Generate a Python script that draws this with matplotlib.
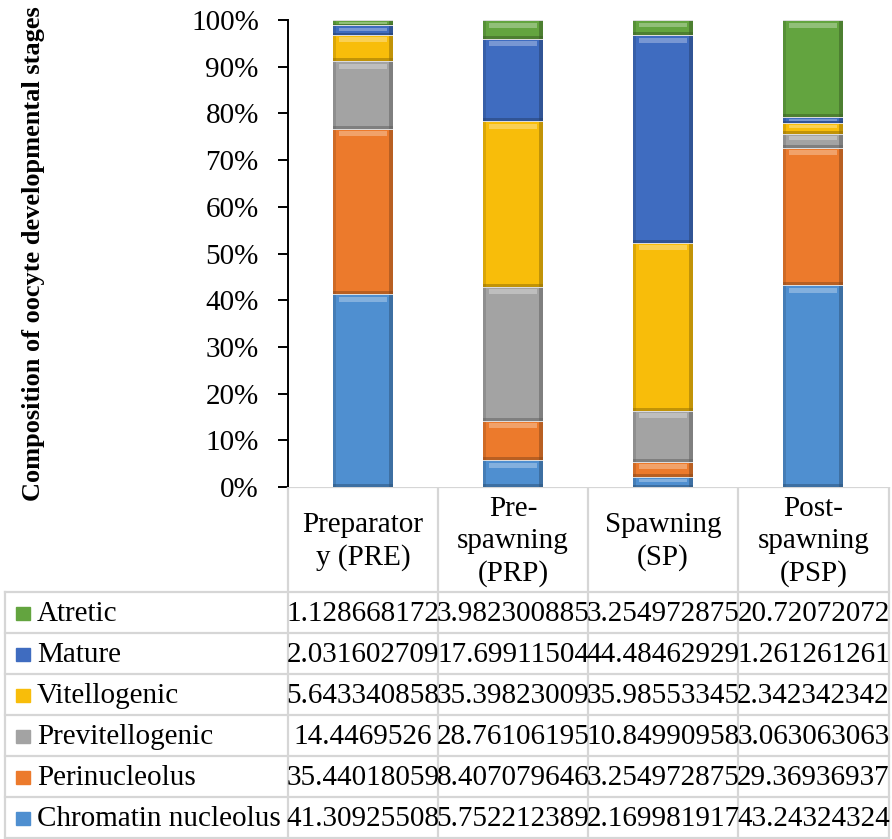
import matplotlib.pyplot as plt
import matplotlib.colors as mcolors
from matplotlib.patches import Rectangle
import numpy as np

plt.rcParams['font.family'] = ['Liberation Serif', 'DejaVu Serif']

# Oocyte stage composition (%) per reproductive phase
phases = ['Preparator\ny (PRE)', 'Pre-\nspawning\n(PRP)', 'Spawning\n(SP)', 'Post-\nspawning\n(PSP)']
stages = ['Chromatin nucleolus', 'Perinucleolus', 'Previtellogenic',
          'Vitellogenic', 'Mature', 'Atretic']
chromatin = [41.30925508, 5.752212389, 2.169981917, 43.24324324]
perinucleolus = [35.44018059, 8.407079646, 3.254972875, 29.36936937]
previtellogenic = [14.4469526, 28.76106195, 10.84990958, 3.063063063]
vitellogenic = [5.643340858, 35.39823009, 35.98553345, 2.342342342]
mature = [2.031602709, 17.69911504, 44.48462929, 1.261261261]
atretic = [1.128668172, 3.982300885, 3.254972875, 20.72072072]
cell_text = ['1.128668172', '3.982300885', '3.254972875', '20.72072072',
             '2.031602709', '17.69911504', '44.48462929', '1.261261261',
             '5.643340858', '35.39823009', '35.98553345', '2.342342342',
             '14.4469526', '28.76106195', '10.84990958', '3.063063063',
             '35.44018059', '8.407079646', '3.254972875', '29.36936937',
             '41.30925508', '5.752212389', '2.169981917', '43.24324324']

series = [chromatin, perinucleolus, previtellogenic, vitellogenic, mature, atretic]
colors = ['#4f8fd0', '#ec7a2c', '#a3a3a3', '#f8bd0a', '#3f6cc0', '#63a43f']

W, H = 892, 839
fig = plt.figure(figsize=(W / 100, H / 100), dpi=100)

# chart area in pixel terms
x0, x1, ytop, ybot = 288, 888, 20, 487
ax = fig.add_axes([x0 / W, 1 - ybot / H, (x1 - x0) / W, (ybot - ytop) / H])

x = np.arange(len(phases))
bw = 0.4
px = 100 / (ybot - ytop)  # one pixel in data units
bottom = np.zeros(len(phases))
for vals, col in zip(series, colors):
    vals = np.array(vals)
    ax.bar(x, vals, bw, bottom=bottom, color=col, edgecolor='none', zorder=2)
    light = mcolors.to_rgb(col)
    light = tuple(c + (1 - c) * 0.5 for c in light)
    dark = tuple(c * 0.6 for c in mcolors.to_rgb(col))
    # bevel: light band on top, darker band at the base, pale gap between stacks
    hi = np.minimum(vals * 0.3, 5 * px)
    lo = np.minimum(vals * 0.2, 3 * px)
    ax.bar(x, hi, bw * 0.8, bottom=bottom + vals - hi - 2.5 * px, color=light,
           edgecolor='none', alpha=0.6, zorder=3)
    ax.bar(x, lo, bw, bottom=bottom, color=dark, edgecolor='none', alpha=0.55, zorder=3)
    ax.bar(x, [1.2 * px] * len(x), bw, bottom=bottom + vals - 1.2 * px,
           color='#dcdcdc', edgecolor='none', zorder=4)
    ax.bar(x - bw / 2 + 0.01, vals, 0.02, bottom=bottom, color=dark, alpha=0.3,
           edgecolor='none', zorder=3)
    ax.bar(x + bw / 2 - 0.015, vals, 0.03, bottom=bottom, color=dark, alpha=0.55,
           edgecolor='none', zorder=3)
    bottom += vals

ax.set_xlim(-0.5, 3.5)
ax.set_ylim(0, 100)
ax.set_yticks(np.arange(0, 101, 10))
ax.set_yticklabels([f'{v}%' for v in range(0, 101, 10)], fontsize=21)
ax.set_xticks([])
ax.tick_params(axis='y', direction='out', length=7, width=1.4, pad=14)
for s in ['top', 'right', 'bottom']:
    ax.spines[s].set_visible(False)
ax.spines['left'].set_linewidth(1.4)
ax.set_ylabel('Composition of oocyte developmental stages', fontsize=19,
              fontweight='bold')
ax.yaxis.set_label_coords(-0.405, 0.5)

# data table underneath
tab = fig.add_axes([0, 0, 1, (H - ybot) / H])
tab.set_xlim(0, W)
tab.set_ylim(H, ybot)
tab.axis('off')
grid = '#d6d6d6'
col_edges = [x0, 438, 588, 738, 889]
head_bot = 592.5
row_h = (H - 1 - head_bot) / len(stages)

tab.plot([x0, 889], [ybot + 0.5, ybot + 0.5], color=grid, lw=1.6)
for xe in col_edges:
    tab.plot([xe, xe], [ybot, H - 1], color=grid, lw=1.6)
tab.plot([5, 5], [head_bot, H - 1], color=grid, lw=1.6)
for i in range(len(stages) + 1):
    yy = head_bot + i * row_h
    tab.plot([5, 889], [yy, yy], color=grid, lw=1.6)

for j, name in enumerate(phases):
    cx = (col_edges[j] + col_edges[j + 1]) / 2
    tab.text(cx, (ybot + head_bot) / 2 + 2, name, ha='center', va='center',
             fontsize=21, linespacing=1.3)

row_order = stages[::-1]
for i, name in enumerate(row_order):
    cy = head_bot + (i + 0.5) * row_h
    col = colors[stages.index(name)]
    tab.add_patch(Rectangle((16, cy - 6), 14, 13, color=col))
    tab.text(37, cy + 1, name, ha='left', va='center', fontsize=21)
    for j in range(len(phases)):
        cx = (col_edges[j] + col_edges[j + 1]) / 2
        tab.text(cx, cy + 1, cell_text[i * 4 + j], ha='center', va='center',
                 fontsize=21)

fig.savefig('out.png', dpi=100)
